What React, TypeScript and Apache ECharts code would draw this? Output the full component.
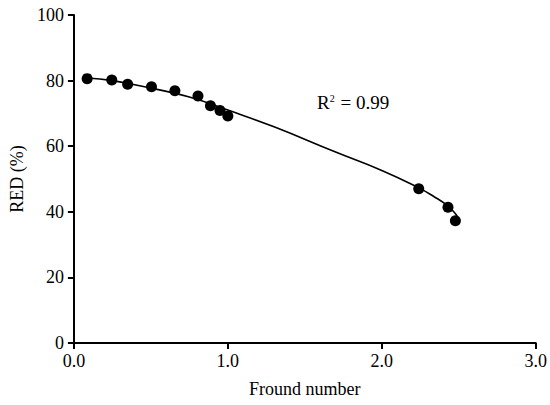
import React, { useEffect, useRef } from "react";
import * as echarts from "echarts";

const pointX = [0.086, 0.246, 0.349, 0.504, 0.656, 0.806, 0.887, 0.949, 1.0, 2.24, 2.43, 2.478];
const pointY = [80.6, 80.2, 78.9, 78.1, 76.9, 75.3, 72.3, 70.9, 69.2, 47.0, 41.4, 37.3];

const fitX = [0.086, 0.25, 0.5, 0.75, 1.0, 1.3, 1.7, 2.0, 2.24, 2.34, 2.43, 2.46, 2.49];
const fitY = [80.8, 80.0, 77.7, 75.0, 71.0, 65.9, 58.2, 52.6, 47.3, 44.6, 41.8, 40.4, 38.7];

const xTicks = [0, 1, 2, 3];
const yTicks = [0, 20, 40, 60, 80, 100];

const FONT = "Liberation Serif";

export default function App() {
  const ref = useRef<HTMLDivElement>(null);
  useEffect(() => {
    document.body.style.margin = "0";
    if (!ref.current) return;
    const chart = echarts.init(ref.current, null, { renderer: "svg" });
    chart.setOption({
      animation: false,
      backgroundColor: "#fff",
      grid: { left: 73, right: 11, top: 15, bottom: 62 },
      xAxis: {
        type: "value",
        min: xTicks[0],
        max: xTicks[xTicks.length - 1],
        interval: 1,
        name: "Fround number",
        nameLocation: "middle",
        nameGap: 37,
        nameTextStyle: { fontFamily: FONT, fontSize: 18, color: "#000" },
        axisLine: { lineStyle: { color: "#000", width: 2 } },
        axisTick: { length: 6, lineStyle: { color: "#000", width: 2 } },
        axisLabel: {
          fontFamily: FONT,
          fontSize: 18,
          color: "#000",
          margin: 9,
          formatter: (v: number) => v.toFixed(1),
        },
        splitLine: { show: false },
      },
      yAxis: {
        type: "value",
        min: yTicks[0],
        max: yTicks[yTicks.length - 1],
        interval: 20,
        name: "RED (%)",
        nameLocation: "middle",
        nameGap: 46,
        nameTextStyle: { fontFamily: FONT, fontSize: 18, color: "#000" },
        axisLine: { show: true, lineStyle: { color: "#000", width: 2 } },
        axisTick: { show: true, length: 6, lineStyle: { color: "#000", width: 2 } },
        axisLabel: { fontFamily: FONT, fontSize: 18, color: "#000", margin: 10 },
        splitLine: { show: false },
      },
      series: [
        {
          type: "line",
          data: fitX.map((x, i) => [x, fitY[i]]),
          smooth: 0.5,
          showSymbol: false,
          lineStyle: { color: "#000", width: 1.6 },
          z: 2,
        },
        {
          type: "scatter",
          data: pointX.map((x, i) => [x, pointY[i]]),
          symbol: "circle",
          symbolSize: 11,
          itemStyle: { color: "#000", opacity: 1 },
          z: 3,
        },
      ],
      graphic: [
        {
          type: "text",
          left: 317,
          top: 93,
          style: {
            text: "R{sup|2} = 0.99",
            fontFamily: FONT,
            fontSize: 19,
            fill: "#000",
            rich: {
              sup: { fontFamily: FONT, fontSize: 10, verticalAlign: "top", padding: [0, 1, 9, 0] },
            },
          },
        },
      ],
    });
    return () => chart.dispose();
  }, []);
  return <div ref={ref} style={{ width: 550, height: 405 }} />;
}
